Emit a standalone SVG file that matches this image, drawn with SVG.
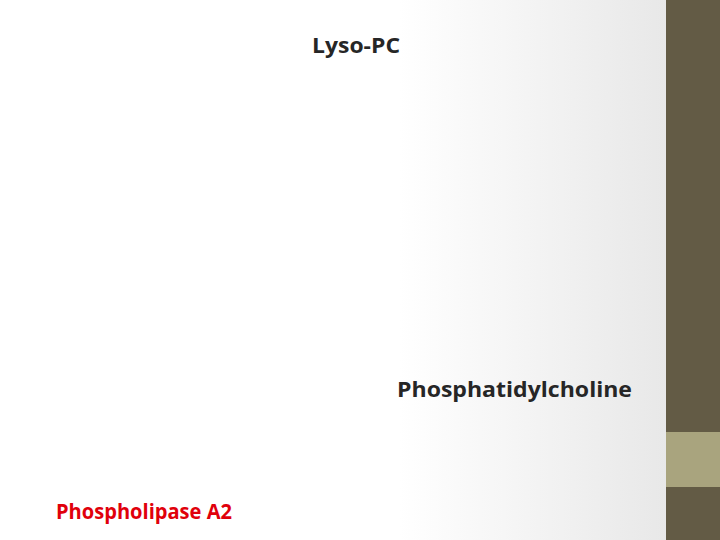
<svg xmlns="http://www.w3.org/2000/svg" width="720" height="540" viewBox="0 0 720 540">
<defs>
<linearGradient id="bg" x1="0" y1="0" x2="666" y2="0" gradientUnits="userSpaceOnUse">
<stop offset="0.6" stop-color="#ffffff"/>
<stop offset="1" stop-color="#e8e8e8"/>
</linearGradient>
<style>
.t{font-family:"Open Sans","Liberation Sans",sans-serif;font-weight:bold;font-size:22px;fill:#262626}
.red{fill:#e0000b}
</style>
</defs>
<rect x="0" y="0" width="720" height="540" fill="url(#bg)"/>
<rect x="666" y="0" width="54" height="540" fill="#635b45"/>
<rect x="666" y="432" width="54" height="55" fill="#a9a47e"/>
<g id="lyso-pc"><text class="t" x="312" y="53" textLength="88" lengthAdjust="spacingAndGlyphs">Lyso-PC</text></g>
<g id="phosphatidylcholine"><text class="t" x="397" y="397" textLength="235" lengthAdjust="spacingAndGlyphs">Phosphatidylcholine</text></g>
<g id="phospholipase-a2"><text class="t red" x="56" y="519" textLength="176" lengthAdjust="spacingAndGlyphs">Phospholipase A2</text></g>
<g id="connectors"></g>
</svg>
